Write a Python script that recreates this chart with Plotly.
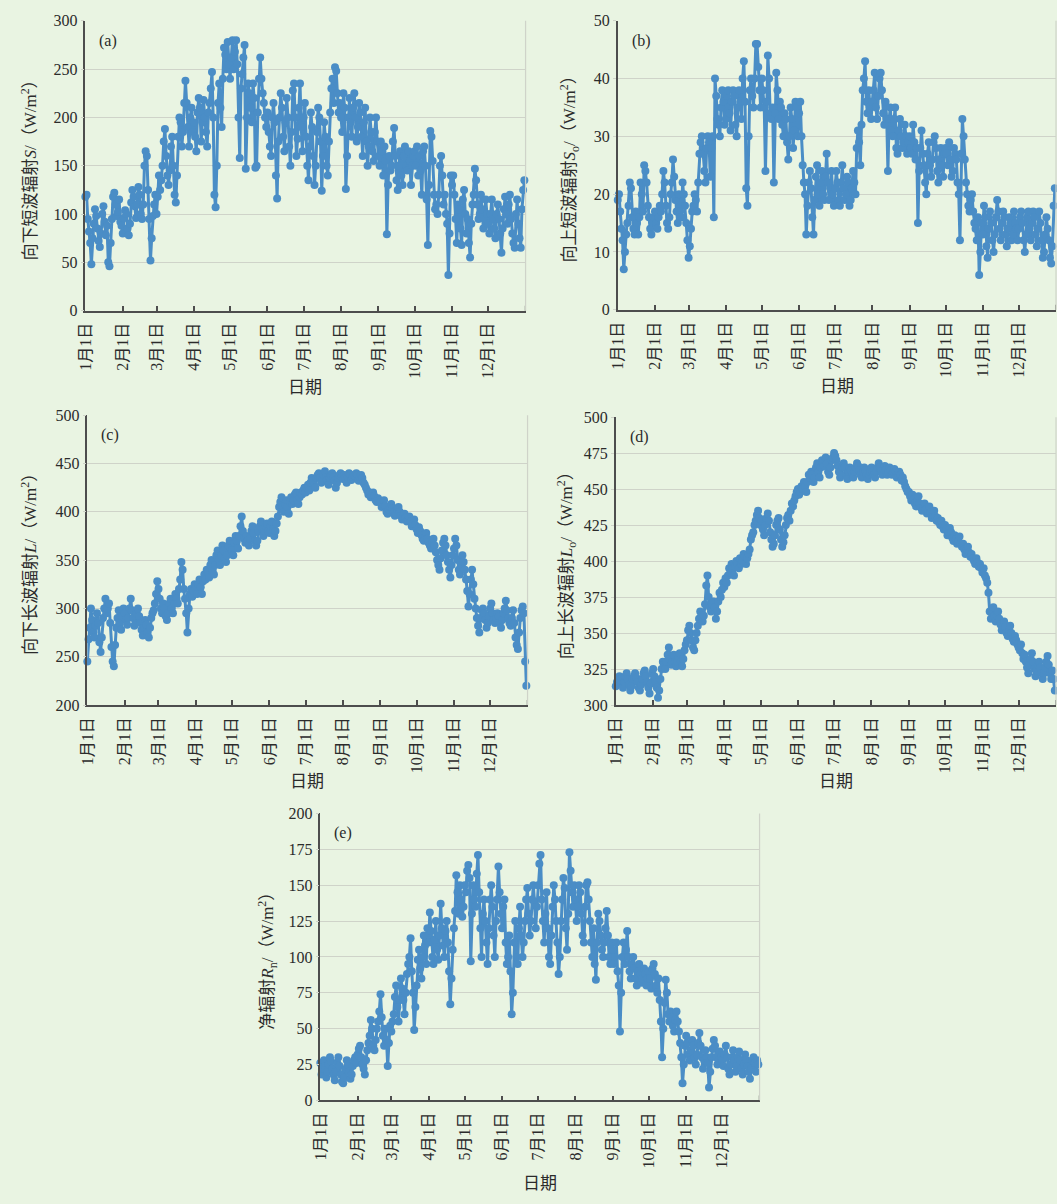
import plotly.graph_objects as go

# ---------------- data: daily means, one list per month ----------------
MONTH_DAYS = [31, 28, 31, 30, 31, 30, 31, 31, 30, 31, 30, 31]
MONTH_LABELS = [f"{m}月1日" for m in range(1, 13)]

# (a) downward shortwave radiation S (W/m2)
S_DOWN = [
    [118, 120, 95, 82, 70, 48, 75, 90, 105, 98, 85, 72, 66, 80, 100, 108, 92, 78, 88, 50, 46, 70, 95, 118, 122, 110, 98, 102, 115, 92, 88],
    [80, 96, 104, 100, 85, 78, 90, 112, 125, 118, 108, 96, 110, 128, 120, 100, 95, 110, 150, 165, 160, 125, 95, 52, 75, 98, 110, 120],
    [100, 118, 140, 125, 135, 150, 175, 188, 160, 140, 130, 145, 170, 180, 150, 120, 112, 140, 180, 200, 195, 170, 185, 215, 238, 215, 190, 170, 200, 210, 185],
    [195, 180, 165, 205, 220, 210, 175, 195, 218, 200, 185, 170, 205, 215, 230, 247, 200, 120, 107, 150, 215, 235, 210, 190, 240, 272, 265, 250, 278, 255],
    [240, 262, 280, 250, 268, 280, 255, 200, 158, 230, 245, 262, 275, 147, 200, 235, 225, 210, 195, 235, 220, 148, 150, 205, 240, 262, 240, 225, 215, 200, 190],
    [205, 185, 170, 160, 200, 215, 195, 140, 116, 175, 200, 225, 210, 180, 165, 195, 220, 200, 170, 150, 185, 228, 235, 200, 160, 178, 210, 235, 190, 165],
    [200, 215, 180, 150, 135, 170, 205, 190, 160, 130, 150, 185, 210, 200, 175, 124, 160, 195, 180, 150, 140, 175, 205, 230, 240, 215, 252, 248, 225, 205, 215],
    [200, 185, 225, 210, 126, 160, 200, 220, 195, 180, 210, 225, 200, 175, 190, 215, 205, 180, 160, 195, 210, 175, 150, 170, 200, 185, 165, 155, 185, 200, 175],
    [160, 150, 175, 165, 140, 170, 155, 79, 130, 160, 145, 150, 175, 189, 160, 135, 125, 150, 165, 140, 130, 160, 170, 150, 145, 165, 155, 130, 150, 160],
    [165, 150, 170, 140, 160, 145, 120, 165, 170, 150, 115, 68, 130, 186, 180, 155, 120, 105, 110, 100, 120, 150, 160, 140, 110, 120, 100, 90, 37, 80, 140],
    [130, 140, 120, 95, 70, 110, 105, 85, 68, 115, 125, 100, 80, 95, 70, 55, 90, 110, 120, 147, 135, 110, 95, 100, 120, 105, 85, 95, 115, 100],
    [90, 80, 100, 115, 95, 85, 75, 100, 110, 95, 80, 60, 85, 105, 118, 100, 90, 110, 120, 95, 80, 70, 65, 100, 115, 90, 75, 65, 105, 125, 135],
]

# (b) upward shortwave radiation So (W/m2)
S_UP = [
    [19, 20, 17, 14, 12, 7, 10, 13, 15, 18, 22, 21, 16, 14, 13, 17, 15, 13, 16, 22, 20, 17, 25, 24, 22, 18, 16, 14, 13, 15, 16],
    [17, 15, 14, 16, 18, 17, 20, 24, 22, 18, 15, 14, 16, 20, 22, 26, 23, 19, 17, 15, 20, 17, 16, 22, 20, 18, 15, 12],
    [9, 11, 14, 17, 18, 20, 19, 17, 22, 27, 29, 30, 27, 24, 22, 28, 30, 29, 23, 28, 30, 16, 40, 37, 33, 32, 30, 35, 38, 36, 32],
    [33, 37, 38, 34, 31, 36, 38, 37, 32, 30, 35, 38, 36, 33, 40, 43, 36, 21, 18, 30, 38, 40, 37, 35, 40, 46, 46, 42, 38, 35],
    [40, 38, 35, 24, 36, 44, 40, 34, 33, 35, 22, 34, 41, 38, 33, 36, 35, 32, 30, 34, 33, 29, 26, 30, 35, 33, 28, 31, 36, 35, 30],
    [34, 36, 30, 25, 22, 20, 13, 18, 22, 24, 21, 16, 13, 19, 23, 25, 20, 18, 22, 24, 20, 19, 23, 27, 22, 19, 21, 24, 20, 18],
    [21, 24, 22, 19, 18, 22, 25, 21, 19, 20, 23, 22, 18, 19, 21, 24, 22, 20, 28, 31, 29, 25, 32, 38, 40, 43, 36, 34, 38, 35, 33],
    [36, 38, 41, 35, 33, 37, 40, 41, 38, 34, 32, 36, 33, 24, 33, 35, 31, 30, 33, 35, 28, 27, 31, 33, 30, 28, 29, 32, 30, 27, 29],
    [30, 28, 27, 32, 29, 26, 28, 15, 24, 28, 31, 27, 25, 22, 20, 27, 29, 25, 23, 26, 29, 30, 28, 24, 22, 26, 28, 25, 23, 27],
    [28, 27, 25, 29, 26, 23, 24, 28, 27, 26, 22, 20, 12, 27, 33, 30, 26, 22, 20, 18, 17, 19, 20, 17, 15, 14, 12, 16, 6, 10, 15],
    [13, 18, 16, 11, 9, 14, 17, 15, 12, 10, 13, 16, 19, 17, 14, 12, 15, 17, 16, 13, 11, 14, 16, 15, 12, 13, 17, 15, 14, 12],
    [14, 16, 17, 15, 12, 10, 13, 16, 17, 14, 12, 15, 17, 16, 13, 11, 14, 17, 15, 12, 9, 10, 13, 16, 14, 12, 9, 8, 11, 18, 21],
]

# (c) downward longwave radiation L (W/m2)
L_DOWN = [
    [245, 268, 280, 300, 288, 275, 270, 282, 295, 285, 265, 255, 270, 290, 300, 310, 295, 300, 305, 285, 260, 245, 240, 262, 280, 290, 298, 285, 278, 292, 300],
    [295, 288, 283, 290, 300, 310, 298, 290, 282, 285, 295, 300, 292, 285, 278, 272, 280, 288, 283, 275, 270, 280, 290, 295, 298, 305, 315, 328],
    [320, 310, 300, 295, 305, 300, 292, 288, 295, 305, 310, 300, 295, 305, 315, 310, 305, 320, 330, 348, 340, 320, 310, 295, 275, 300, 315, 320, 312, 318, 325],
    [320, 315, 325, 330, 322, 315, 328, 335, 330, 340, 338, 332, 345, 350, 340, 335, 345, 355, 360, 350, 345, 355, 365, 360, 352, 348, 355, 365, 370, 362],
    [360, 355, 368, 375, 370, 362, 375, 385, 395, 380, 372, 368, 375, 370, 365, 372, 380, 385, 378, 370, 365, 370, 380, 385, 390, 382, 375, 380, 385, 388, 380],
    [378, 385, 390, 382, 375, 380, 388, 395, 405, 410, 415, 405, 400, 408, 412, 405, 398, 410, 415, 408, 412, 418, 420, 412, 408, 415, 420, 418, 422, 425],
    [420, 425, 428, 422, 430, 435, 432, 428, 425, 435, 438, 440, 435, 430, 432, 438, 442, 436, 433, 428, 435, 438, 440, 436, 432, 425, 430, 435, 438, 440, 437],
    [434, 438, 435, 430, 436, 440, 438, 433, 436, 438, 437, 440, 438, 432, 436, 438, 435, 430, 428, 425, 422, 418, 420, 415, 418, 420, 416, 412, 410, 414, 412],
    [410, 405, 408, 412, 406, 400, 398, 402, 405, 408, 404, 400, 396, 398, 402, 405, 400, 396, 392, 395, 398, 394, 390, 392, 395, 390, 385, 388, 392, 386],
    [382, 378, 384, 380, 376, 372, 370, 375, 378, 372, 368, 365, 362, 368, 372, 365, 358, 350, 345, 340, 352, 360, 368, 372, 365, 355, 348, 340, 332, 345, 355],
    [362, 372, 365, 350, 340, 335, 345, 355, 348, 340, 330, 318, 302, 315, 330, 340, 325, 310, 300, 290, 282, 275, 290, 298, 300, 295, 288, 280, 285, 292],
    [300, 305, 295, 288, 285, 290, 295, 292, 285, 280, 288, 295, 300, 308, 298, 290, 285, 282, 290, 298, 285, 270, 262, 258, 275, 290, 298, 302, 295, 245, 220],
]

# (d) upward longwave radiation Lo (W/m2)
L_UP = [
    [313, 316, 318, 320, 318, 315, 312, 316, 320, 322, 318, 314, 310, 313, 318, 320, 322, 319, 316, 312, 310, 314, 318, 322, 324, 320, 316, 312, 308, 315, 322],
    [325, 320, 316, 312, 305, 310, 318, 325, 330, 328, 325, 330, 335, 340, 332, 328, 330, 335, 330, 327, 330, 333, 336, 330, 327, 332, 338, 342],
    [345, 352, 355, 350, 345, 340, 338, 345, 350, 355, 360, 365, 362, 358, 362, 370, 383, 390, 375, 368, 365, 370, 372, 368, 360, 365, 372, 378, 375, 380, 385],
    [382, 388, 385, 390, 395, 392, 398, 395, 390, 396, 400, 398, 395, 402, 398, 400, 405, 403, 398, 402, 405, 408, 415, 418, 420, 425, 428, 432, 435, 430],
    [425, 428, 422, 418, 425, 430, 433, 428, 420, 415, 410, 412, 418, 425, 428, 430, 422, 415, 410, 413, 418, 425, 430, 432, 428, 435, 440, 438, 442, 445, 448],
    [450, 446, 448, 452, 450, 455, 452, 448, 455, 460, 458, 462, 460, 455, 458, 465, 468, 462, 458, 465, 470, 468, 466, 472, 468, 462, 460, 465, 470, 472],
    [475, 473, 470, 466, 462, 458, 460, 465, 468, 465, 460, 457, 462, 465, 463, 460, 458, 462, 465, 468, 466, 463, 460, 458, 462, 465, 463, 460, 457, 460, 462],
    [465, 462, 460, 458, 462, 465, 468, 465, 462, 460, 464, 466, 463, 460, 462, 465, 463, 460, 462, 464, 462, 458, 460, 462, 460, 456, 458, 455, 452, 450, 448],
    [448, 445, 442, 446, 443, 440, 438, 442, 445, 440, 437, 435, 438, 440, 436, 433, 435, 438, 434, 430, 432, 435, 431, 428, 430, 427, 425, 428, 424, 422],
    [425, 422, 418, 420, 423, 420, 416, 414, 418, 415, 412, 414, 417, 412, 410, 412, 408, 405, 408, 410, 406, 403, 405, 402, 400, 398, 402, 399, 396, 398, 395],
    [392, 395, 390, 388, 385, 378, 365, 360, 364, 368, 362, 358, 362, 365, 360, 356, 352, 355, 358, 354, 350, 348, 352, 355, 350, 346, 344, 348, 345, 342],
    [340, 338, 342, 336, 332, 335, 330, 326, 322, 328, 332, 336, 330, 325, 320, 324, 328, 330, 326, 322, 318, 322, 326, 330, 334, 328, 322, 318, 324, 318, 310],
]

# (e) net radiation Rn (W/m2)
R_NET = [
    [26, 18, 22, 28, 24, 16, 20, 25, 30, 27, 22, 18, 14, 20, 26, 30, 24, 18, 13, 12, 16, 22, 28, 25, 20, 15, 18, 24, 28, 30, 26],
    [32, 36, 38, 30, 25, 22, 18, 28, 35, 40, 45, 56, 50, 38, 35, 42, 50, 55, 62, 74, 58, 45, 38, 50, 42, 24, 40, 52],
    [48, 55, 60, 72, 80, 65, 55, 70, 85, 78, 70, 60, 75, 88, 95, 100, 113, 90, 75, 49, 65, 80, 98, 105, 92, 85, 100, 115, 108, 95, 120],
    [110, 131, 118, 100, 95, 112, 125, 105, 98, 115, 137, 120, 108, 100, 118, 125, 110, 90, 67, 85, 105, 120, 132, 157, 145, 130, 150, 140, 128, 135],
    [150, 145, 160, 164, 155, 97, 130, 150, 140, 135, 158, 171, 145, 120, 100, 130, 140, 125, 110, 95, 120, 140, 150, 135, 115, 100, 125, 140, 163, 145, 130],
    [120, 135, 140, 110, 95, 100, 115, 90, 60, 75, 110, 125, 100, 95, 120, 135, 115, 100, 110, 125, 140, 148, 130, 115, 125, 140, 150, 138, 120, 135],
    [150, 165, 171, 140, 125, 110, 130, 145, 120, 100, 95, 115, 135, 150, 140, 125, 110, 88, 100, 125, 140, 155, 148, 120, 105, 130, 173, 160, 145, 135, 150],
    [140, 125, 135, 150, 145, 130, 115, 110, 135, 150, 152, 140, 125, 110, 100, 120, 95, 84, 110, 130, 125, 115, 105, 100, 110, 120, 132, 115, 100, 95, 110],
    [105, 95, 100, 110, 90, 80, 48, 75, 100, 110, 95, 105, 118, 100, 90, 85, 95, 100, 92, 85, 80, 90, 95, 88, 82, 85, 92, 88, 80, 85],
    [90, 85, 78, 92, 95, 88, 80, 75, 85, 70, 55, 30, 50, 68, 84, 75, 60, 55, 62, 58, 52, 48, 56, 62, 55, 48, 40, 30, 12, 25, 38],
    [45, 40, 32, 28, 35, 42, 38, 30, 25, 32, 40, 47, 38, 30, 22, 28, 35, 30, 26, 9, 20, 30, 36, 42, 38, 30, 25, 28, 34, 30],
    [28, 24, 32, 38, 30, 22, 18, 25, 30, 35, 28, 20, 24, 30, 34, 28, 22, 18, 25, 32, 28, 24, 20, 15, 22, 28, 30, 26, 20, 28, 25],
]


def flatten(by_month):
    out = []
    for days, vals in zip(MONTH_DAYS, by_month):
        assert len(vals) == days, (days, len(vals))
        out.extend(vals)
    return out


DAY = list(range(365))
month_starts = [sum(MONTH_DAYS[:i]) for i in range(12)]
YEAR_END = sum(MONTH_DAYS)

# ---------------- layout helpers (pixel geometry on a 1057x1204 page) ----------------
W, H = 1057, 1204
BG = "#e9f4e2"
BLUE = "#4a8dc6"
TXT = "#2b2b2b"
GRID = "#cfd3c9"
AXIS = "#4d4d4d"
NUM_FONT = "Liberation Serif, Noto Sans CJK SC, serif"

panels = [
    # key, values, y-range, dtick, plot box (left, top, right, bottom), title, tag, y-title x
    ("a", S_DOWN, (0, 300), 50, (77, 13, 521, 307),
     "向下短波辐射<i>S</i>/（W/m<sup>2</sup>）", "(a)", 20),
    ("b", S_UP, (0, 50), 10, (614, 13, 1056, 306),
     "向上短波辐射<i>S</i><sub>o</sub>/（W/m<sup>2</sup>）", "(b)", 565),
    ("c", L_DOWN, (200, 500), 50, (79, 413, 523, 707),
     "向下长波辐射<i>L</i>/（W/m<sup>2</sup>）", "(c)", 20),
    ("d", L_UP, (300, 500), 25, (612, 415, 1056, 707),
     "向上长波辐射<i>L</i><sub>o</sub>/（W/m<sup>2</sup>）", "(d)", 562),
    ("e", R_NET, (0, 200), 25, (314, 817, 757, 1108),
     "净辐射<i>R</i><sub>n</sub>/（W/m<sup>2</sup>）", "(e)", 261),
]

fig = go.Figure()
annotations = []
shapes = []

for i, (key, vals, yr, dt, box, ytitle, tag, ytx) in enumerate(panels, start=1):
    left, top, right, bottom = box
    xa = "x" if i == 1 else f"x{i}"
    ya = "y" if i == 1 else f"y{i}"
    fig.add_trace(go.Scatter(
        x=DAY, y=flatten(vals), xaxis=xa, yaxis=ya,
        mode="lines+markers",
        line=dict(color=BLUE, width=3),
        marker=dict(color=BLUE, size=8),
        cliponaxis=False, showlegend=False, hoverinfo="skip",
    ))
    xname = "xaxis" if i == 1 else f"xaxis{i}"
    yname = "yaxis" if i == 1 else f"yaxis{i}"
    fig.layout[xname] = dict(
        domain=[left / W, right / W], anchor=ya, range=[0, YEAR_END],
        tickmode="array", tickvals=month_starts, ticktext=MONTH_LABELS,
        tickangle=-90, ticks="inside", ticklen=5, tickwidth=1.5, tickcolor=AXIS,
        showline=True, linecolor=AXIS, linewidth=1.5, showgrid=False,
        zeroline=False, ticklabelstandoff=4,
        tickfont=dict(family=NUM_FONT, size=16, color=TXT),
    )
    fig.layout[yname] = dict(
        domain=[1 - bottom / H, 1 - top / H], anchor=xa, range=list(yr), dtick=dt,
        tick0=yr[0], ticks="outside", ticklen=3, tickcolor=GRID,
        showline=True, linecolor=AXIS, linewidth=1.5,
        showgrid=True, gridcolor=GRID, gridwidth=1, zeroline=False,
        tickfont=dict(family=NUM_FONT, size=16, color=TXT),
    )
    # closing tick at the year end on the date axis
    shapes.append(dict(type="line", xref=xa, yref="paper",
                       x0=YEAR_END, x1=YEAR_END,
                       y0=1 - bottom / H, y1=1 - (bottom - 5) / H,
                       line=dict(color=AXIS, width=1.5)))
    # light frame on the right edge of the plot area
    shapes.append(dict(type="line", xref="paper", yref="paper",
                       x0=right / W, x1=right / W, y0=1 - bottom / H, y1=1 - top / H,
                       line=dict(color=GRID, width=1.2)))
    # panel tag
    annotations.append(dict(text=tag, xref="paper", yref="paper",
                            x=(left + 12) / W, y=1 - (top + 20) / H,
                            xanchor="left", yanchor="middle", showarrow=False,
                            font=dict(family=NUM_FONT, size=16, color=TXT)))
    # y-axis title
    annotations.append(dict(text=ytitle, xref="paper", yref="paper",
                            x=ytx / W, y=1 - (top + bottom) / 2 / H,
                            xanchor="center", yanchor="middle", textangle=-90,
                            showarrow=False,
                            font=dict(family=NUM_FONT, size=17, color=TXT)))
    # x-axis title
    annotations.append(dict(text="日期", xref="paper", yref="paper",
                            x=(left + right) / 2 / W,
                            y=1 - (bottom + (84 if key == "e" else 78)) / H,
                            xanchor="center", yanchor="middle", showarrow=False,
                            font=dict(family=NUM_FONT, size=17, color=TXT)))

fig.update_layout(
    width=W, height=H, margin=dict(l=0, r=0, t=0, b=0),
    paper_bgcolor=BG, plot_bgcolor=BG,
    annotations=annotations, shapes=shapes,
    font=dict(family=NUM_FONT, color=TXT),
)

fig.write_html("out.html", config={"displayModeBar": False})
